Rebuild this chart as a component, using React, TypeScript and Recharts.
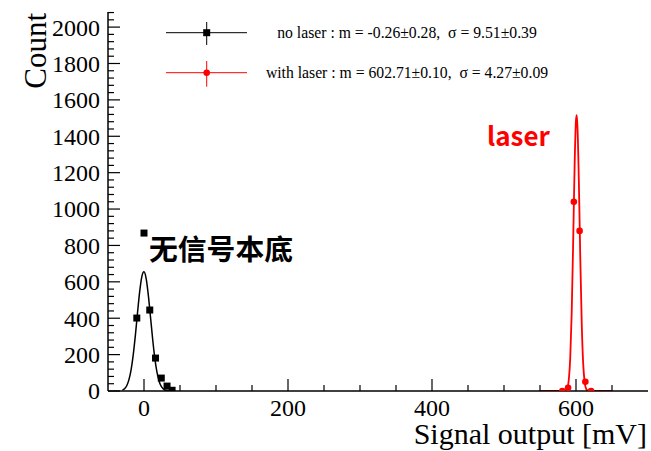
import React from 'react';
import {
    ComposedChart,
    XAxis,
    YAxis,
    Line,
    Scatter,
} from 'recharts';

// measured points (bin centre in mV, counts)
const noLaserX = [-10, 0, 8, 16, 24, 32, 39];
const noLaserCount = [401, 868, 445, 181, 71, 27, 4];
const laserX = [581, 589, 597, 605, 613, 621];
const laserCount = [0, 18, 1040, 880, 51, 0];

// gaussian fit curves as drawn
const noLaserFitX = [-30, -27, -24, -21, -18, -15, -12, -9, -6, -3, 0, 3, 6, 9, 12, 15, 18, 21, 24, 27, 30, 35, 40];
const noLaserFitY = [5, 12, 29, 61, 115, 197, 306, 430, 546, 629, 655, 618, 527, 408, 286, 181, 104, 54, 25, 11, 4, 1, 0];
const laserFitX = [550, 570, 580, 586, 588, 590, 592, 594, 596, 597, 598, 600, 601, 602, 604, 605, 606, 608, 610, 612, 614, 616, 620, 635, 650];
const laserFitY = [0, 0, 0, 2, 14, 62, 182, 426, 807, 1020, 1222, 1490, 1516, 1458, 1145, 934, 722, 366, 149, 49, 13, 3, 0, 0, 0];

const xTicks = [0, 50, 100, 150, 200, 250, 300, 350, 400, 450, 500, 550, 600, 650];
const yMajor = [0, 200, 400, 600, 800, 1000, 1200, 1400, 1600, 1800, 2000];
const yTicks: number[] = [];
for (let v = 0; v <= 2080; v += 40) yTicks.push(v);

const X_DOMAIN: [number, number] = [-50, 700];
const Y_DOMAIN: [number, number] = [0, 2083];

const SERIF = '"Liberation Serif", "Times New Roman", serif';
const CJK = '"Noto Sans CJK SC", "Noto Sans", sans-serif';

const toPts = (xs: number[], ys: number[]) => xs.map((x, i) => ({ x, y: ys[i] }));

const noLaserPts = toPts(noLaserX, noLaserCount);
const laserPts = toPts(laserX, laserCount);
const noLaserFit = toPts(noLaserFitX, noLaserFitY);
const laserFit = toPts(laserFitX, laserFitY);

const YTick = (side: 'left' | 'right') => (props: any) => {
    const { x, y, payload } = props;
    const major = yMajor.includes(payload.value);
    const len = major ? 12 : 6;
    const dir = side === 'left' ? 1 : -1;
    return (
        <g>
            <line x1={x} x2={x + dir * len} y1={y} y2={y} stroke="#000" strokeWidth={1.2} />
            {side === 'left' && major && (
                <text x={x - 8} y={y} dy="0.35em" textAnchor="end" fontSize={24} fontFamily={SERIF} fill="#000">
                    {payload.value}
                </text>
            )}
        </g>
    );
};

const XTick = (props: any) => {
    const { x, y, payload } = props;
    const major = payload.value % 200 === 0;
    const len = major ? 12 : 6;
    return (
        <g>
            <line x1={x} x2={x} y1={y} y2={y - len} stroke="#000" strokeWidth={1.2} />
            {major && (
                <text x={x} y={y + 25} textAnchor="middle" fontSize={24} fontFamily={SERIF} fill="#000">
                    {payload.value}
                </text>
            )}
        </g>
    );
};

const Square = (props: any) => {
    const { cx, cy } = props;
    if (cx == null || cy == null) return null;
    return <rect x={cx - 3.5} y={cy - 3.5} width={7} height={7} fill="#000" />;
};

const Dot = (props: any) => {
    const { cx, cy } = props;
    if (cx == null || cy == null) return null;
    return <circle cx={cx} cy={cy} r={3.3} fill="#ff0000" />;
};

const App: React.FC = () => {
    return (
        <div style={{ position: 'absolute', left: 0, top: 0, width: 651, height: 451, background: '#fff' }}>
            <ComposedChart width={651} height={451} margin={{ top: 12, right: 3, left: 0, bottom: 0 }}>
                <XAxis
                    dataKey="x"
                    type="number"
                    domain={X_DOMAIN}
                    allowDataOverflow
                    ticks={xTicks}
                    interval={0}
                    height={60}
                    tickSize={0}
                    tickMargin={0}
                    tick={XTick}
                    axisLine={{ stroke: '#000', strokeWidth: 1.5 }}
                />
                <XAxis
                    xAxisId="top"
                    orientation="top"
                    type="number"
                    domain={X_DOMAIN}
                    height={0}
                    tick={false}
                    tickLine={false}
                    axisLine={{ stroke: '#000', strokeWidth: 1.5 }}
                />
                <YAxis
                    type="number"
                    domain={Y_DOMAIN}
                    allowDataOverflow
                    ticks={yTicks}
                    interval={0}
                    width={108}
                    tickSize={0}
                    tickMargin={0}
                    tick={YTick('left')}
                    axisLine={{ stroke: '#000', strokeWidth: 1.5 }}
                />
                <YAxis
                    yAxisId="right"
                    orientation="right"
                    type="number"
                    domain={Y_DOMAIN}
                    allowDataOverflow
                    ticks={yTicks}
                    interval={0}
                    width={0}
                    tickSize={0}
                    tickMargin={0}
                    tick={YTick('right')}
                    axisLine={{ stroke: '#000', strokeWidth: 1.5 }}
                />

                <Line data={noLaserFit} dataKey="y" type="monotone" stroke="#000" strokeWidth={1.5} dot={false} isAnimationActive={false} />
                <Line data={laserFit} dataKey="y" type="monotone" stroke="#ff0000" strokeWidth={1.8} dot={false} isAnimationActive={false} />
                <Scatter data={noLaserPts} dataKey="y" shape={Square} isAnimationActive={false} />
                <Scatter data={laserPts} dataKey="y" shape={Dot} isAnimationActive={false} />
            </ComposedChart>

            <svg width={651} height={451} style={{ position: 'absolute', left: 0, top: 0, pointerEvents: 'none' }}>
                {/* legend */}
                <line x1={166} x2={247} y1={32.7} y2={32.7} stroke="#000" strokeWidth={1} />
                <line x1={206.7} x2={206.7} y1={22} y2={45} stroke="#000" strokeWidth={1} />
                <rect x={203.2} y={29.2} width={7} height={7} fill="#000" />
                <text x={407} y={37.5} textAnchor="middle" fontSize={15.7} fontFamily={SERIF} style={{ whiteSpace: 'pre' }}>
                    {'no laser : m = -0.26\u00b10.28,  \u03c3 = 9.51\u00b10.39'}
                </text>
                <line x1={166} x2={247} y1={72.7} y2={72.7} stroke="#ff0000" strokeWidth={1} />
                <line x1={206.7} x2={206.7} y1={61} y2={86.7} stroke="#ff0000" strokeWidth={1} />
                <circle cx={206.7} cy={72.7} r={3.3} fill="#ff0000" />
                <text x={407} y={77.5} textAnchor="middle" fontSize={15.7} fontFamily={SERIF} style={{ whiteSpace: 'pre' }}>
                    {'with laser : m = 602.71\u00b10.10,  \u03c3 = 4.27\u00b10.09'}
                </text>

                {/* axis titles */}
                <text transform="translate(46,13) rotate(-90)" textAnchor="end" fontSize={31} fontFamily={SERIF}>
                    Count
                </text>
                <text x={647} y={444} textAnchor="end" fontSize={30} fontFamily={SERIF}>
                    Signal output [mV]
                </text>

                {/* annotations */}
                <text x={149} y={260} fontSize={28.8} fontWeight="bold" fontFamily={CJK} fill="#000">
                    无信号本底
                </text>
                <text x={487} y={146} fontSize={26} fontWeight="bold" fontFamily={CJK} fill="#ff0000">
                    laser
                </text>
            </svg>
        </div>
    );
};

export default App;
